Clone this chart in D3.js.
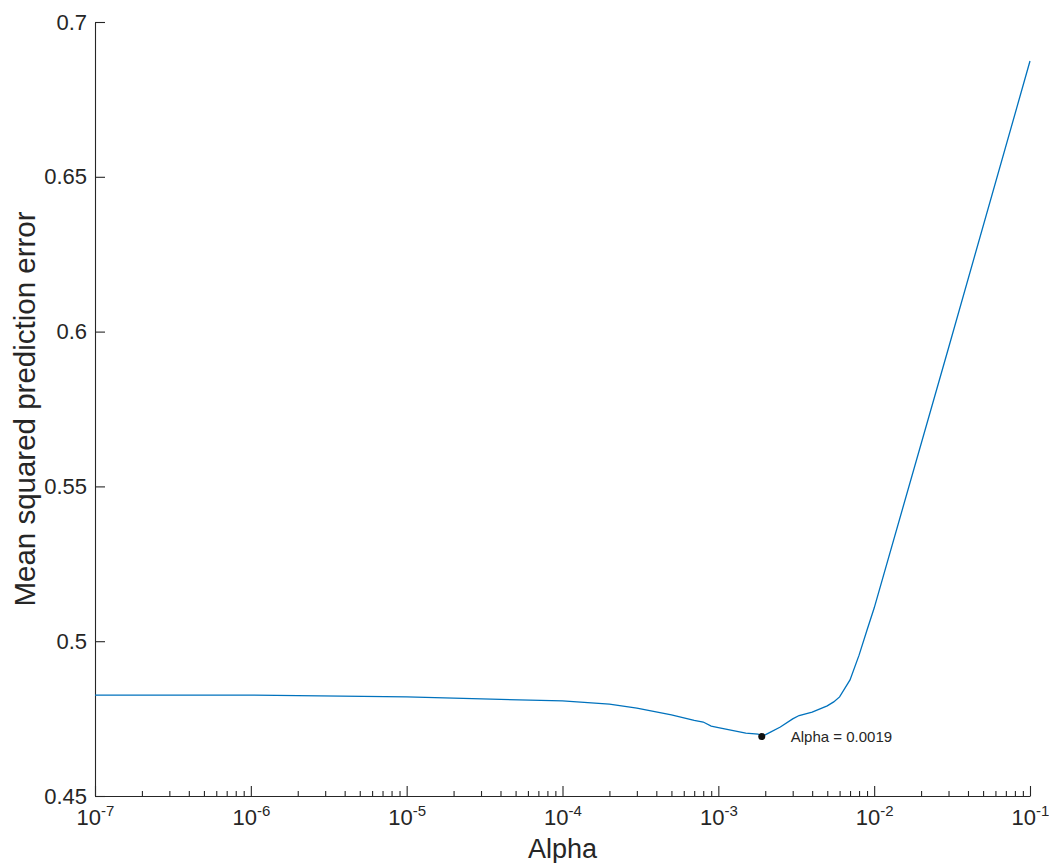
<!DOCTYPE html>
<html lang='en'>
<head>
<meta charset="utf-8">
<script src="https://d3js.org/d3.v7.min.js"></script>
<style>
  body { margin:0; background:#fff; }
  svg text { font-family: "Liberation Sans", Arial, Helvetica, sans-serif; fill:#262626; }
  .axis path, .axis line { stroke:#262626; stroke-width:1.1; }
</style>
</head>
<body>
<svg id="chart" width="1049" height="863"></svg>
<script>

// alpha values and cross-validated mse
var alphas = [1e-7, 1e-6, 1e-5, 1e-4, 2e-4, 3e-4, 5e-4, 7e-4, 8e-4, 9e-4, 1e-3,
              1.5e-3, 1.8e-3, 1.9e-3, 2.1e-3, 2.5e-3, 3e-3, 3.3e-3, 4e-3, 5e-3, 5.5e-3,
              6e-3, 7e-3, 8e-3, 9e-3, 1e-2, 3e-2, 1e-1];
var mse = [0.4826, 0.4826, 0.4820, 0.4807, 0.4797, 0.4784, 0.4762, 0.4744, 0.4739, 0.4726, 0.4721,
           0.4703, 0.4700, 0.4692, 0.4703, 0.4723, 0.4749, 0.4760, 0.4771, 0.4791, 0.4804,
           0.4820, 0.4875, 0.4955, 0.5036, 0.5107, 0.5947, 0.6874];

var bestAlpha = 1.9e-3, bestMse = 0.4692;
var bestLabel = "Alpha = 0.0019";

var yTicks = [0.45, 0.5, 0.55, 0.6, 0.65, 0.7];
var xDecades = [-7, -6, -5, -4, -3, -2, -1];

var svg = d3.select("#chart");
var pLeft = 95, pRight = 1030, pTop = 22, pBottom = 796;

var x = d3.scaleLog().domain([1e-7, 1e-1]).range([pLeft, pRight]);
var y = d3.scaleLinear().domain([0.45, 0.7]).range([pBottom, pTop]);

// minor ticks on x
var minor = [];
xDecades.slice(0, -1).forEach(function(e){
  for (var k = 2; k <= 9; k++) minor.push(k * Math.pow(10, e));
});
svg.append("g").attr("class","axis")
  .attr("transform","translate(0,"+pBottom+")")
  .call(d3.axisBottom(x).tickValues(minor).tickSizeInner(-5).tickSizeOuter(0).tickFormat(""))
  .select(".domain").remove();

// major x axis
var gx = svg.append("g").attr("class","axis")
  .attr("transform","translate(0,"+pBottom+")")
  .call(d3.axisBottom(x).tickValues(xDecades.map(function(e){return Math.pow(10,e);}))
        .tickSizeInner(-10).tickSizeOuter(0).tickPadding(12).tickFormat(""));
gx.selectAll(".tick text").each(function(d){
  var t = d3.select(this).attr("y", 29).attr("font-size", 22).attr("dy", null);
  t.append("tspan").text("10");
  t.append("tspan").attr("font-size", 15).attr("dy", -9).text(Math.round(Math.log10(d)));
});

// y axis
var gy = svg.append("g").attr("class","axis")
  .attr("transform","translate("+pLeft+",0)")
  .call(d3.axisLeft(y).tickValues(yTicks).tickSizeInner(-10).tickSizeOuter(0)
        .tickPadding(8).tickFormat(d3.format("~g")));
gy.selectAll(".tick text").attr("font-size", 22);

// line
svg.append("path")
  .datum(alphas.map(function(a,i){return [a, mse[i]];}))
  .attr("fill","none")
  .attr("stroke","#0072BD")
  .attr("stroke-width",1.3)
  .attr("d", d3.line().x(function(d){return x(d[0]);}).y(function(d){return y(d[1]);}));

// best point
svg.append("circle")
  .attr("cx", x(bestAlpha)).attr("cy", y(bestMse)).attr("r", 3.5)
  .attr("fill","#111");
svg.append("text")
  .attr("x", x(bestAlpha) + 29).attr("y", y(bestMse) + 5)
  .attr("font-size", 15)
  .text(bestLabel);

// axis titles
svg.append("text")
  .attr("x", (pLeft+pRight)/2).attr("y", 858)
  .attr("text-anchor","middle").attr("font-size", 27)
  .text("Alpha");
svg.append("text")
  .attr("transform","translate(35,"+((pTop+pBottom)/2)+") rotate(-90)")
  .attr("text-anchor","middle").attr("font-size", 29.5)
  .text("Mean squared prediction error");

</script>
</body>
</html>
